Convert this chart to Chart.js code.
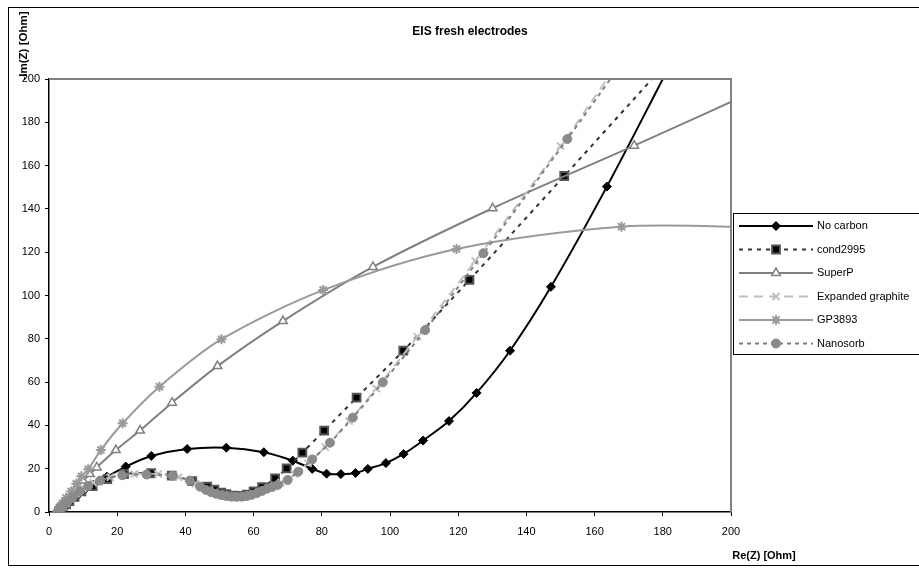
<!DOCTYPE html>
<html>
<head>
<meta charset="utf-8">
<script src="https://cdn.jsdelivr.net/npm/chart.js@4.4.0/dist/chart.umd.min.js"></script>
<style>
  body { margin: 0; background: #fff; }
  canvas { display: block; }
</style>
</head>
<body>
<canvas id="chart" width="919" height="568"></canvas>
<script>
// values
const seriesNames = ['No carbon', 'cond2995', 'SuperP', 'Expanded graphite', 'GP3893', 'Nanosorb'];

const noCarbonX = [3, 3.5, 4.5, 6, 8, 10, 13, 17, 22.5, 30, 40.5, 52, 63, 71.5, 77.2, 81.4, 85.6, 89.9, 93.5, 98.8, 104, 109.7, 117.3, 125.4, 135.2, 147.2, 163.6, 181];
const noCarbonY = [0.5, 1.5, 3, 4.5, 7, 9.5, 12.5, 16.3, 21, 25.9, 29.1, 29.7, 27.6, 23.7, 19.9, 17.7, 17.5, 18, 19.9, 22.6, 26.8, 33, 42, 55, 74.5, 104, 150.3, 203];

const condX = [3, 3.5, 4, 5, 6, 7.5, 9.5, 12.8, 17.1, 22, 30, 36, 42, 46.4, 48.5, 50.5, 52, 54, 56, 58, 60, 62.5, 66.3, 69.7, 74.3, 80.7, 90.2, 103.9, 123.3, 151.1, 178];
const condY = [0.5, 1.5, 2.5, 3.5, 5, 7, 9.5, 12, 15.2, 17.5, 17.9, 16.8, 14.3, 11.7, 10.3, 9, 8.2, 7.6, 7.4, 8, 9.5, 11.5, 15.5, 20.2, 27.4, 37.6, 52.8, 74.5, 107.2, 155.2, 202];

const superPX = [2.5, 3, 4, 5, 6.5, 8, 10, 12, 14, 19.6, 26.7, 36.1, 49.4, 68.6, 95, 130.1, 171.6, 212];
const superPY = [0, 1.5, 3.5, 5.5, 8, 11, 14.5, 17.5, 20.6, 28.6, 37.6, 50.5, 67.4, 88.2, 113.2, 140.3, 169.2, 198];

const expGraphX = [2.5, 3, 4, 5, 6.5, 8, 10, 13, 18, 25, 32, 38, 43, 47, 50, 53, 56, 59, 62, 65, 68, 72, 76, 81, 88, 96, 108, 125, 150, 165];
const expGraphY = [0, 1, 2.5, 4, 6, 8.5, 11, 13.5, 16, 17.5, 17.5, 16, 13, 10, 8.3, 7.3, 7.1, 7.7, 9.3, 11.2, 13.5, 17.5, 22.5, 30, 42, 57, 81, 116, 169, 203];

const gpX = [2.5, 3, 4, 5, 6.5, 8, 9.5, 11.5, 15.2, 21.6, 32.4, 50.6, 80.4, 119.5, 167.9, 210];
const gpY = [0, 2, 4, 6.5, 9.5, 13, 16.5, 19.7, 28.6, 41, 57.9, 79.8, 102.5, 121.5, 131.8, 131.5];

const nanoX = [2.5, 3, 3.5, 4.5, 5.5, 7, 9, 11.5, 15, 21.5, 28.6, 36.3, 41.3, 44.3, 46, 47.5, 49, 50.5, 52, 53.5, 55, 56.5, 58, 59.5, 61, 62.5, 64, 65.5, 67.1, 70, 73.1, 77.2, 82.4, 89.1, 97.9, 110.3, 127.4, 152, 166];
const nanoY = [0, 1, 2, 3.5, 5, 7, 9.5, 12, 14.5, 17, 17.3, 16.8, 14.5, 11.7, 10.2, 9.2, 8.4, 7.8, 7.4, 7.1, 7, 7.1, 7.4, 8, 8.8, 9.8, 10.8, 11.6, 12.5, 14.8, 18.6, 24.3, 32, 43.6, 59.9, 84, 119.5, 172.3, 203];

const axisTicks = [0, 20, 40, 60, 80, 100, 120, 140, 160, 180, 200];

function toPoints(xs, ys) {
  return xs.map((x, i) => ({ x: x, y: ys[i] }));
}

const datasets = [
  {
    label: seriesNames[0], data: toPoints(noCarbonX, noCarbonY),
    borderColor: '#000', borderWidth: 2, borderDash: [],
    pointStyle: 'rectRot', pointRadius: 4.5, pointBackgroundColor: '#000', pointBorderColor: '#000', pointBorderWidth: 1
  },
  {
    label: seriesNames[1], data: toPoints(condX, condY),
    borderColor: '#333', borderWidth: 2, borderDash: [4, 5],
    pointStyle: 'rect', pointRadius: 5.5, pointBackgroundColor: '#000', pointBorderColor: '#555', pointBorderWidth: 2
  },
  {
    label: seriesNames[2], data: toPoints(superPX, superPY),
    borderColor: '#808080', borderWidth: 2, borderDash: [],
    pointStyle: 'triangle', pointRadius: 5, pointBackgroundColor: '#fff', pointBorderColor: '#808080', pointBorderWidth: 1.5
  },
  {
    label: seriesNames[3], data: toPoints(expGraphX, expGraphY),
    borderColor: '#c0c0c0', borderWidth: 2, borderDash: [9, 6],
    pointStyle: 'crossRot', pointRadius: 5, pointBackgroundColor: '#c0c0c0', pointBorderColor: '#c0c0c0', pointBorderWidth: 2
  },
  {
    label: seriesNames[4], data: toPoints(gpX, gpY),
    borderColor: '#9a9a9a', borderWidth: 2, borderDash: [],
    pointStyle: 'star', pointRadius: 5, pointBackgroundColor: '#9a9a9a', pointBorderColor: '#9a9a9a', pointBorderWidth: 2
  },
  {
    label: seriesNames[5], data: toPoints(nanoX, nanoY),
    borderColor: '#808080', borderWidth: 2, borderDash: [4, 4],
    pointStyle: 'circle', pointRadius: 4.5, pointBackgroundColor: '#8a8a8a', pointBorderColor: '#8a8a8a', pointBorderWidth: 1
  }
];

// later series on top, like the original
datasets.forEach((d, i) => {
  d.order = datasets.length - i;
  d.showLine = true;
  d.tension = 0.3;
  d.fill = false;
});

const font = "'Liberation Sans', Arial, sans-serif";

const decorations = {
  id: 'decorations',
  afterDraw(chart) {
    const ctx = chart.ctx;
    const a = chart.chartArea;
    ctx.save();

    // outer frame
    ctx.strokeStyle = '#000';
    ctx.lineWidth = 1;
    ctx.setLineDash([]);
    ctx.strokeRect(8.5, 7.5, 940, 558);

    // plot area border top and right
    ctx.strokeStyle = '#808080';
    ctx.lineWidth = 2;
    ctx.beginPath();
    ctx.moveTo(a.left, a.top);
    ctx.lineTo(a.right, a.top);
    ctx.lineTo(a.right, a.bottom);
    ctx.stroke();

    // titles
    ctx.fillStyle = '#000';
    ctx.font = 'bold 12px ' + font;
    ctx.textAlign = 'center';
    ctx.textBaseline = 'middle';
    ctx.fillText('EIS fresh electrodes', 470, 32);

    ctx.font = 'bold 11px ' + font;
    ctx.fillText('Re(Z) [Ohm]', 764, 556);

    ctx.save();
    ctx.translate(24, 46);
    ctx.rotate(-Math.PI / 2);
    ctx.font = 'bold 11.5px ' + font;
    ctx.fillText('-Im(Z) [Ohm]', 0, 0);
    ctx.restore();

    // legend
    ctx.strokeStyle = '#000';
    ctx.lineWidth = 1;
    ctx.strokeRect(733.5, 213.5, 200, 141);
    ctx.font = '11px ' + font;
    ctx.textAlign = 'left';
    chart.data.datasets.forEach((d, i) => {
      const y = 226 + i * 23.5;
      ctx.strokeStyle = d.borderColor;
      ctx.lineWidth = d.borderWidth;
      ctx.setLineDash(d.borderDash);
      ctx.beginPath();
      ctx.moveTo(739, y);
      ctx.lineTo(813, y);
      ctx.stroke();
      ctx.setLineDash([]);
      ctx.fillStyle = d.pointBackgroundColor;
      ctx.strokeStyle = d.pointBorderColor;
      ctx.lineWidth = d.pointBorderWidth;
      Chart.helpers.drawPoint(ctx, {
        pointStyle: d.pointStyle, radius: d.pointRadius, borderWidth: d.pointBorderWidth, rotation: 0
      }, 776, y);
      ctx.fillStyle = '#000';
      ctx.fillText(d.label, 817, y);
    });

    ctx.restore();
  }
};

const axisBase = {
  type: 'linear',
  min: 0,
  max: 200,
  grid: { drawOnChartArea: false, drawTicks: true, tickLength: 4, color: '#000' },
  border: { color: '#000', width: 1.5 },
  afterBuildTicks(scale) {
    scale.ticks = axisTicks.map(v => ({ value: v }));
  }
};

new Chart(document.getElementById('chart'), {
  type: 'scatter',
  data: { datasets: datasets },
  plugins: [decorations],
  options: {
    responsive: false,
    animation: false,
    layout: { padding: { left: 0, top: 79, right: 188, bottom: 0 } },
    plugins: { legend: { display: false }, tooltip: { enabled: false }, title: { display: false } },
    scales: {
      x: Object.assign({}, axisBase, {
        ticks: { color: '#000', font: { family: font, size: 11 }, padding: 9, maxRotation: 0 },
        afterFit(scale) { scale.height = 56; }
      }),
      y: Object.assign({}, axisBase, {
        ticks: { color: '#000', font: { family: font, size: 11 }, padding: 5 },
        afterFit(scale) { scale.width = 49; }
      })
    }
  }
});
</script>
</body>
</html>
